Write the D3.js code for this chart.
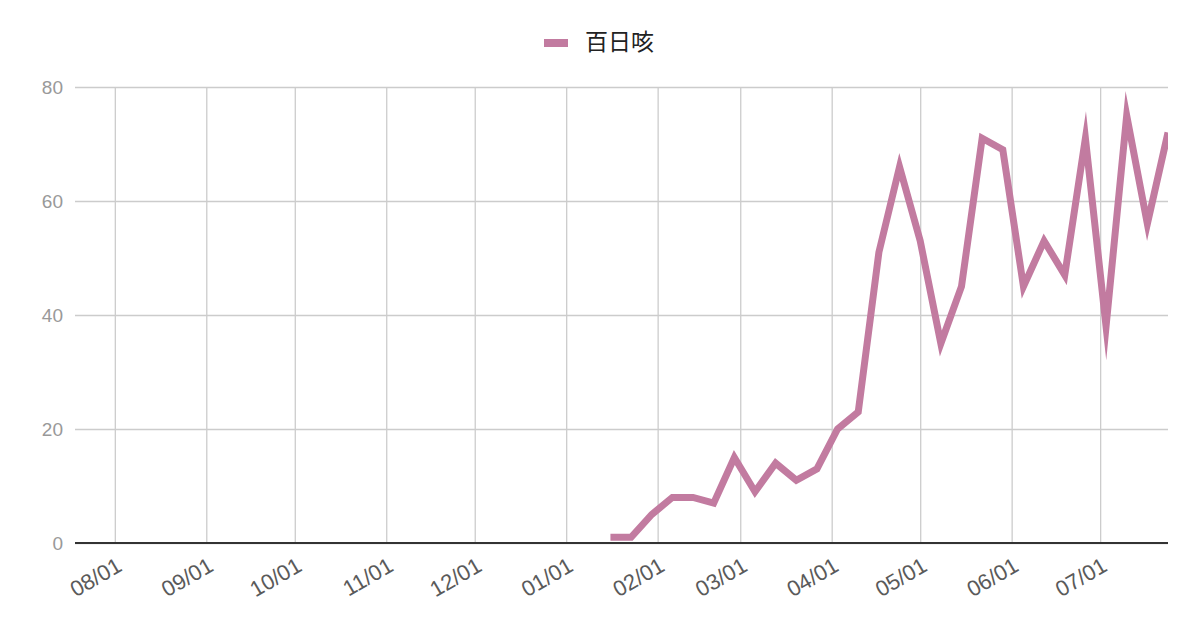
<!DOCTYPE html>
<html><head><meta charset="utf-8">
<script src="https://cdn.jsdelivr.net/npm/d3@7"></script>
<style>body{margin:0;background:#fff}svg{display:block}</style>
</head><body>
<svg id="c" width="1200" height="626"></svg>
<script>
const seriesName = "百日咳";
const dates = ["2025-01-16","2025-01-23","2025-01-30","2025-02-06","2025-02-13","2025-02-20","2025-02-27",
  "2025-03-06","2025-03-13","2025-03-20","2025-03-27","2025-04-03","2025-04-10","2025-04-17","2025-04-24",
  "2025-05-01","2025-05-08","2025-05-15","2025-05-22","2025-05-29","2025-06-05","2025-06-12","2025-06-19",
  "2025-06-26","2025-07-03","2025-07-10","2025-07-17","2025-07-24"];
const values = [1,1,5,8,8,7,15,9,14,11,13,20,23,51,66,53,35,45,71,69,45,53,47,71,38,75,56,72];
const xDomain = ["2024-07-18T12:00:00Z","2025-07-24T00:00:00Z"];
const xTickDates = ["2024-08-01","2024-09-01","2024-10-01","2024-11-01","2024-12-01","2025-01-01",
  "2025-02-01","2025-03-01","2025-04-01","2025-05-01","2025-06-01","2025-07-01"];
const yTicks = [0,20,40,60,80];

const parse = d3.isoParse;
const fmt = d3.utcFormat("%m/%d");
const svg = d3.select("#c");
const m = {l:75, r:1168, t:87, b:543};
const x = d3.scaleUtc().domain(xDomain.map(parse)).range([m.l, m.r]);
const y = d3.scaleLinear().domain([0,80]).range([m.b, m.t]);
const font = "Liberation Sans, Arial, sans-serif";

// horizontal gridlines + y labels
const ya = svg.append("g").attr("transform",`translate(${m.l},0)`)
  .call(d3.axisLeft(y).tickValues(yTicks).tickSize(-(m.r-m.l)).tickPadding(12));
ya.select(".domain").remove();
ya.selectAll("line").attr("stroke","#cccccc").attr("stroke-width",1.3);
ya.selectAll("text").attr("fill","#999").style("font-family",font).style("font-size","19px");

// vertical gridlines + x labels
const xa = svg.append("g").attr("transform",`translate(0,${m.b})`)
  .call(d3.axisBottom(x).tickValues(xTickDates.map(parse)).tickFormat(fmt).tickSize(-(m.b-m.t)).tickPadding(0));
xa.select(".domain").remove();
xa.selectAll("line").attr("stroke","#cccccc").attr("stroke-width",1.3);
xa.selectAll("text").attr("fill","#5a5a5a").style("font-family",font).style("font-size","22px")
  .attr("text-anchor","end").attr("dy","0").attr("y",0)
  .attr("transform","translate(8,27) rotate(-30)");

// baseline
svg.append("line").attr("x1",m.l).attr("x2",m.r).attr("y1",y(0)).attr("y2",y(0))
  .attr("stroke","#333").attr("stroke-width",2.2);

// line
const data = dates.map((d,i)=>({d:parse(d), v:values[i]}));
svg.append("defs").append("clipPath").attr("id","clip").append("rect")
  .attr("x",m.l).attr("y",0).attr("width",m.r-m.l).attr("height",m.b+10);
svg.append("path").datum(data).attr("clip-path","url(#clip)")
  .attr("d", d3.line().x(d=>x(d.d)).y(d=>y(d.v)))
  .attr("fill","none").attr("stroke","#c27ba0").attr("stroke-width",7)
  .attr("stroke-linejoin","miter").attr("stroke-miterlimit",10);

// legend
const lg = svg.append("g");
lg.append("rect").attr("x",544).attr("y",39).attr("width",24).attr("height",8).attr("fill","#c27ba0");
lg.append("text").attr("x",585).attr("y",50).text(seriesName)
  .attr("fill","#222").style("font-family","Noto Sans CJK JP, sans-serif").style("font-size","23px");
</script>
</body></html>
